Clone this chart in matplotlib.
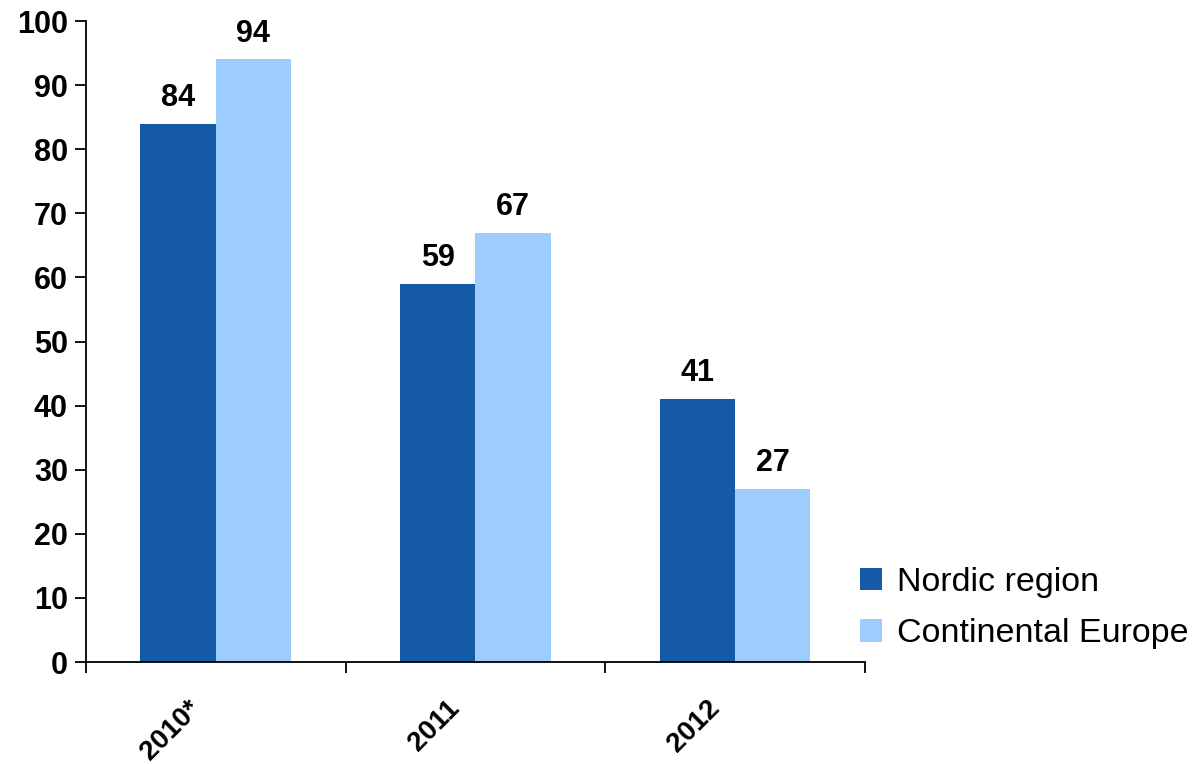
import numpy as np
import matplotlib
matplotlib.use("Agg")
import matplotlib.pyplot as plt

plt.rcParams['font.family'] = ['Liberation Sans', 'DejaVu Sans']

years = ['2010*', '2011', '2012']
nordic = [84, 59, 41]
continental = [94, 67, 27]

fig = plt.figure(figsize=(11.93, 7.64), dpi=100)
ax = fig.add_axes([0.072, 0.1335, 0.653, 0.839])

x = np.arange(len(years))
w = 0.29
ax.bar(x - w/2, nordic, w, color='#155AA6', label='Nordic region')
ax.bar(x + w/2, continental, w, color='#9DCCFF', label='Continental Europe')

for i in range(len(years)):
    ax.text(x[i] - w/2, nordic[i] + 1.7, str(nordic[i]), ha='center', va='bottom',
            fontsize=22, fontweight='bold')
    ax.text(x[i] + w/2, continental[i] + 1.7, str(continental[i]), ha='center', va='bottom',
            fontsize=22, fontweight='bold')

ax.set_ylim(0, 100)
ax.set_yticks(range(0, 101, 10))
ax.set_xlim(-0.5, 2.5)
ax.set_xticks(x - 0.11)
ax.set_xticklabels(years, rotation=45, ha='right', rotation_mode='anchor',
                   fontsize=20, fontweight='bold')
ax.tick_params(axis='x', length=0, pad=24)
ax.set_xticks([-0.5, 0.5, 1.5, 2.5], minor=True)
ax.tick_params(axis='x', which='minor', length=8, width=1.3, direction='out')
ax.tick_params(axis='y', length=8, width=1.3, labelsize=22, pad=5)
for lab in ax.get_yticklabels():
    lab.set_fontweight('bold')

ax.spines['top'].set_visible(False)
ax.spines['right'].set_visible(False)
ax.spines['left'].set_linewidth(1.3)
ax.spines['bottom'].set_linewidth(1.3)

fig.legend(loc='lower left', bbox_to_anchor=(0.695, 0.11), frameon=False,
           fontsize=24.5, handlelength=0.65, handleheight=0.65, handletextpad=0.45,
           labelspacing=0.6)

fig.savefig('out.png', dpi=100)
